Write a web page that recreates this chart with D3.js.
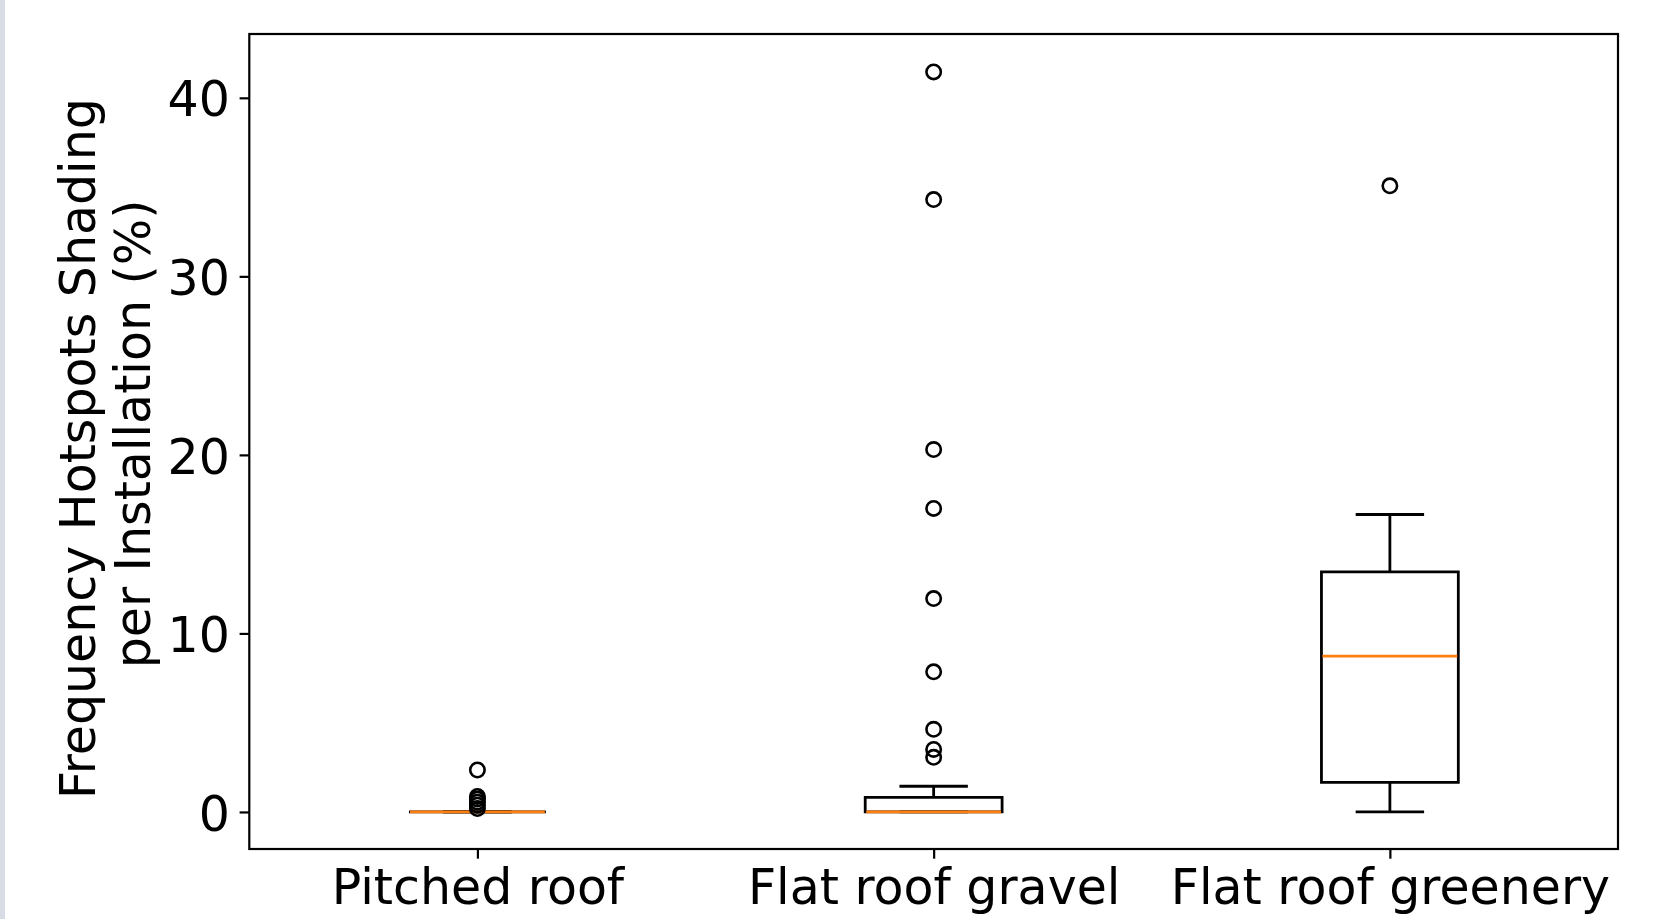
<!DOCTYPE html>
<html>
<head>
<meta charset="utf-8">
<script src="https://cdn.jsdelivr.net/npm/d3@7"></script>
<style>
  html, body { margin: 0; padding: 0; background: #ffffff; }
  svg { display: block; }
  text { font-family: "DejaVu Sans", sans-serif; }
</style>
</head>
<body>
<svg id="chart" width="1669" height="919"></svg>
<script>
// ---- data ----
const categories = ["Pitched roof", "Flat roof gravel", "Flat roof greenery"];
const q1Values = [0, 0, 1.66];
const medianValues = [0, 0, 8.73];
const q3Values = [0, 0.82, 13.45];
const whiskerLowValues = [0, 0, 0];
const whiskerHighValues = [0, 1.44, 16.66];
const outlierValues = [
  [2.35, 0.87, 0.72, 0.55, 0.38, 0.19],
  [41.45, 34.3, 20.3, 17.0, 11.95, 7.85, 4.63, 3.5, 3.06],
  [35.07]
];
const yTicks = [0, 10, 20, 30, 40];
const yTitleLines = ["Frequency Hotspots Shading", "per Installation (%)"];

(function () {
// ---- layout ----
const W = 1669, H = 919;
const mLeft = 249.3, mRight = 1618, mTop = 34, mBottom = 849;
const fontPx = 49;
const boxWidth = 0.3, capWidth = 0.15;
const lw = 2.8, spineW = 2.2, tickLen = 9.7, tickPad = 9.7;
const medianColor = "#ff7f0e";

const svg = d3.select("#chart");
svg.append("rect").attr("x", 0).attr("y", 0).attr("width", W).attr("height", H).attr("fill", "#ffffff");
svg.append("rect").attr("x", 0).attr("y", 0).attr("width", 5).attr("height", H).attr("fill", "#d8dde5");

const x = d3.scaleLinear().domain([0.5, 3.5]).range([mLeft, mRight]);
const y = d3.scaleLinear().domain([-2.075, 43.575]).range([mBottom, mTop]);

const stats = categories.map((c, i) => ({
  cat: c, pos: i + 1,
  q1: q1Values[i], med: medianValues[i], q3: q3Values[i],
  lo: whiskerLowValues[i], hi: whiskerHighValues[i],
  out: outlierValues[i]
}));

const plot = svg.append("g");

stats.forEach(s => {
  // whiskers
  plot.append("line").attr("x1", x(s.pos)).attr("x2", x(s.pos))
    .attr("y1", y(s.q1)).attr("y2", y(s.lo))
    .attr("stroke", "#000").attr("stroke-width", lw);
  plot.append("line").attr("x1", x(s.pos)).attr("x2", x(s.pos))
    .attr("y1", y(s.q3)).attr("y2", y(s.hi))
    .attr("stroke", "#000").attr("stroke-width", lw);
  // caps
  [s.lo, s.hi].forEach(v => {
    plot.append("line")
      .attr("x1", x(s.pos - capWidth / 2)).attr("x2", x(s.pos + capWidth / 2))
      .attr("y1", y(v)).attr("y2", y(v))
      .attr("stroke", "#000").attr("stroke-width", lw);
  });
  // box
  const bx0 = x(s.pos - boxWidth / 2), bx1 = x(s.pos + boxWidth / 2);
  plot.append("path")
    .attr("d", `M${bx0},${y(s.q1)}L${bx1},${y(s.q1)}L${bx1},${y(s.q3)}L${bx0},${y(s.q3)}Z`)
    .attr("fill", "none").attr("stroke", "#000").attr("stroke-width", lw)
    .attr("stroke-linejoin", "miter");
  // median
  plot.append("line").attr("x1", bx0 + 1).attr("x2", bx1 - 1)
    .attr("y1", y(s.med)).attr("y2", y(s.med))
    .attr("stroke", medianColor).attr("stroke-width", lw);
  // fliers
  plot.selectAll(null).data(s.out).enter().append("circle")
    .attr("cx", x(s.pos)).attr("cy", d => y(d)).attr("r", 7.2)
    .attr("fill", "none").attr("stroke", "#000").attr("stroke-width", 2.6);
});

// frame
svg.append("rect").attr("x", mLeft).attr("y", mTop)
  .attr("width", mRight - mLeft).attr("height", mBottom - mTop)
  .attr("fill", "none").attr("stroke", "#000").attr("stroke-width", spineW);

// y axis
const yAxis = svg.append("g").attr("transform", `translate(${mLeft},0)`)
  .call(d3.axisLeft(y).tickValues(yTicks).tickSize(tickLen).tickPadding(tickPad).tickFormat(d3.format("d")));
yAxis.select(".domain").remove();
yAxis.selectAll(".tick line").attr("stroke", "#000").attr("stroke-width", spineW);
yAxis.selectAll(".tick text").attr("font-size", fontPx).attr("font-family", "DejaVu Sans")
  .attr("fill", "#000").attr("dy", "0.37em");

// x axis
const xAxis = svg.append("g").attr("transform", `translate(0,${mBottom})`)
  .call(d3.axisBottom(x).tickValues([1, 2, 3]).tickSize(tickLen).tickPadding(tickPad)
    .tickFormat(d => categories[d - 1]));
xAxis.select(".domain").remove();
xAxis.selectAll(".tick line").attr("stroke", "#000").attr("stroke-width", spineW);
xAxis.selectAll(".tick text").attr("font-size", fontPx).attr("font-family", "DejaVu Sans")
  .attr("fill", "#000").attr("y", 904 - mBottom).attr("dy", 0);

// y title (two lines)
const titlePos = [{ bx: 95, cy: 448.5 }, { bx: 150, cy: 434 }];
yTitleLines.forEach((t, i) => {
  svg.append("text")
    .attr("transform", `translate(${titlePos[i].bx},${titlePos[i].cy}) rotate(-90)`)
    .attr("text-anchor", "middle")
    .attr("font-size", fontPx).attr("fill", "#000")
    .text(t);
});
})();
</script>
</body>
</html>
